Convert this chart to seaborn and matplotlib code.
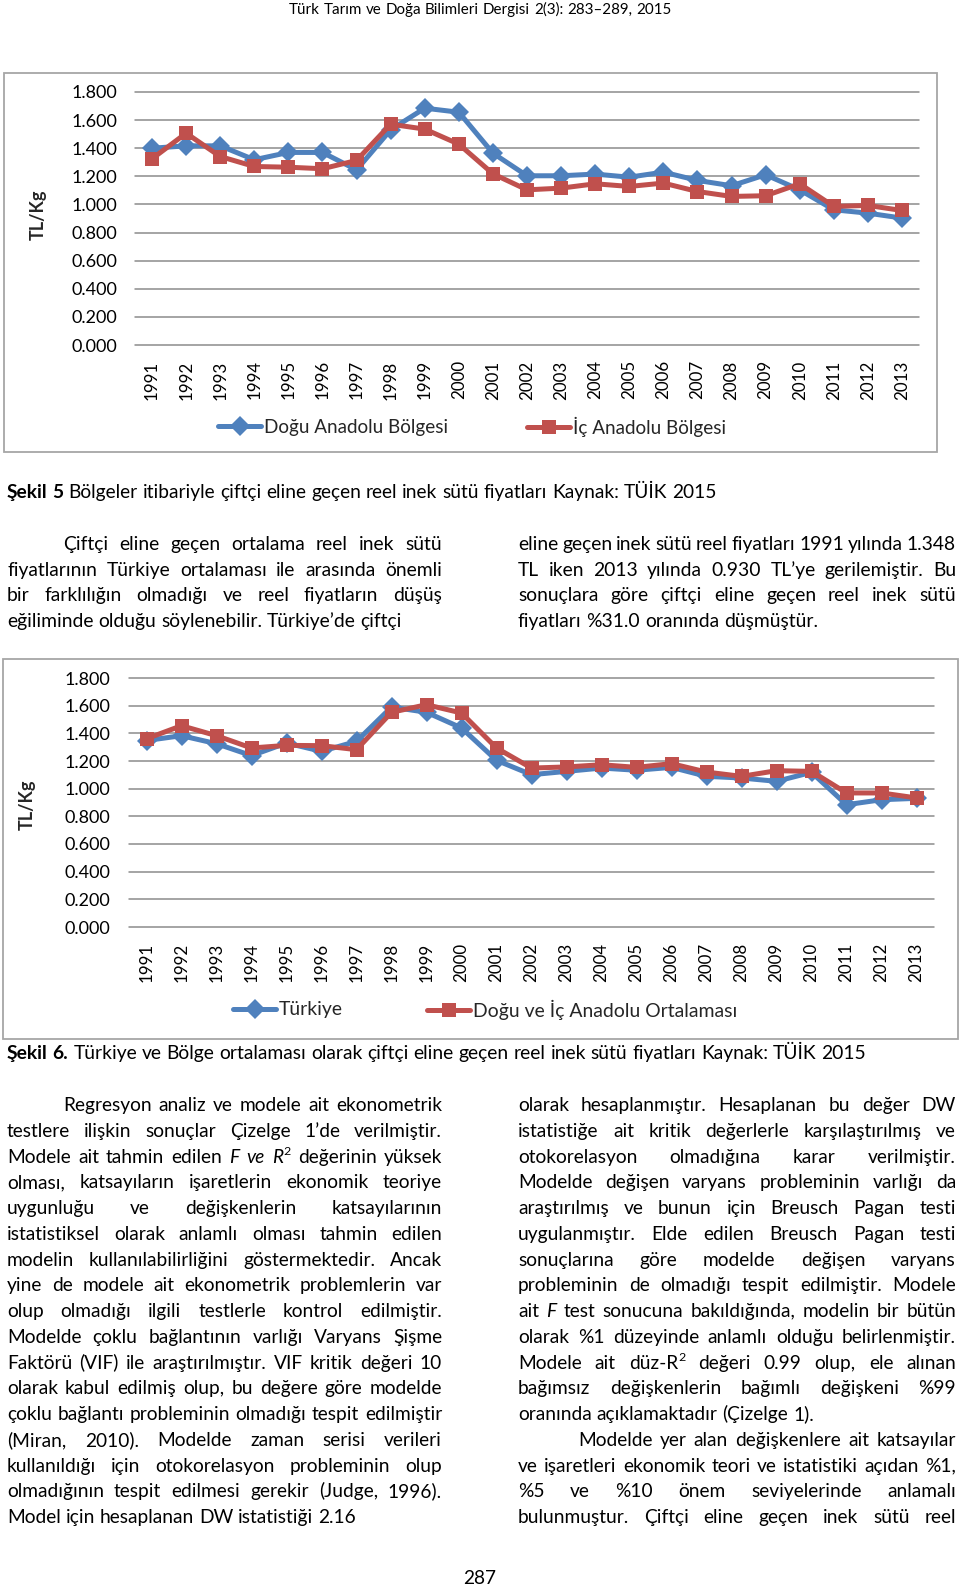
import re
import numpy as np
import pandas as pd
import matplotlib
matplotlib.use('Agg')
import matplotlib.pyplot as plt
import matplotlib.font_manager as fm
from matplotlib.patches import Rectangle
from matplotlib.ticker import FormatStrFormatter
import seaborn as sns

# ---------------- data ----------------
years = ['1991', '1992', '1993', '1994', '1995', '1996', '1997', '1998', '1999', '2000',
         '2001', '2002', '2003', '2004', '2005', '2006', '2007', '2008', '2009', '2010',
         '2011', '2012', '2013']
dogu_anadolu = [1.400, 1.417, 1.417, 1.318, 1.370, 1.370, 1.246, 1.531, 1.685, 1.656,
                1.365, 1.204, 1.204, 1.216, 1.194, 1.230, 1.171, 1.133, 1.211, 1.104,
                0.962, 0.938, 0.903]
ic_anadolu = [1.325, 1.507, 1.341, 1.270, 1.265, 1.254, 1.313, 1.571, 1.536, 1.429,
              1.218, 1.104, 1.116, 1.147, 1.128, 1.152, 1.092, 1.057, 1.062, 1.147,
              0.986, 0.993, 0.957]
turkiye = [1.348, 1.383, 1.325, 1.239, 1.330, 1.270, 1.342, 1.590, 1.552, 1.439,
           1.205, 1.101, 1.125, 1.149, 1.133, 1.154, 1.089, 1.077, 1.053, 1.118,
           0.884, 0.920, 0.930]
bolge_ortalama = [1.361, 1.455, 1.383, 1.294, 1.313, 1.311, 1.282, 1.552, 1.607, 1.547,
                  1.294, 1.149, 1.157, 1.173, 1.154, 1.181, 1.120, 1.089, 1.130, 1.125,
                  0.969, 0.969, 0.933]
y_ticks = [0.0, 0.2, 0.4, 0.6, 0.8, 1.0, 1.2, 1.4, 1.6, 1.8]

series1 = ['Doğu Anadolu Bölgesi', 'İç Anadolu Bölgesi']
series2 = ['Türkiye', 'Doğu ve İç Anadolu Ortalaması']
y_label = 'TL/Kg'

header = 'Türk Tarım ve Doğa Bilimleri Dergisi 2(3): 283–289, 2015'
caption1 = '*Şekil* *5* Bölgeler itibariyle çiftçi eline geçen reel inek sütü fiyatları Kaynak: TÜİK 2015'
caption2 = '*Şekil* *6.* Türkiye ve Bölge ortalaması olarak çiftçi eline geçen reel inek sütü fiyatları  Kaynak: TÜİK 2015'

upper_col1 = ['Çiftçi eline geçen ortalama reel inek sütü',
              'fiyatlarının Türkiye ortalaması ile arasında önemli',
              'bir farklılığın olmadığı ve reel fiyatların düşüş',
              'eğiliminde olduğu söylenebilir. Türkiye’de çiftçi']
upper_col2 = ['eline geçen inek sütü reel fiyatları 1991 yılında 1.348',
              'TL iken 2013 yılında 0.930 TL’ye gerilemiştir. Bu',
              'sonuçlara göre çiftçi eline geçen reel inek sütü',
              'fiyatları %31.0 oranında düşmüştür.']

body_col1 = ['Regresyon analiz ve modele ait ekonometrik',
             'testlere ilişkin sonuçlar Çizelge 1’de verilmiştir.',
             'Modele ait tahmin edilen _F_ _ve_ _R_^2 değerinin yüksek',
             'olması, katsayıların işaretlerin ekonomik teoriye',
             'uygunluğu ve değişkenlerin katsayılarının',
             'istatistiksel olarak anlamlı olması tahmin edilen',
             'modelin kullanılabilirliğini göstermektedir. Ancak',
             'yine de modele ait ekonometrik problemlerin var',
             'olup olmadığı ilgili testlerle kontrol edilmiştir.',
             'Modelde çoklu bağlantının varlığı Varyans Şişme',
             'Faktörü (VIF) ile araştırılmıştır. VIF kritik değeri 10',
             'olarak kabul edilmiş olup, bu değere göre modelde',
             'çoklu bağlantı probleminin olmadığı tespit edilmiştir',
             '(Miran, 2010). Modelde zaman serisi verileri',
             'kullanıldığı için otokorelasyon probleminin olup',
             'olmadığının tespit edilmesi gerekir (Judge, 1996).',
             'Model için hesaplanan DW istatistiği 2.16']
body_col2 = ['olarak hesaplanmıştır. Hesaplanan bu değer DW',
             'istatistiğe ait kritik değerlerle karşılaştırılmış ve',
             'otokorelasyon olmadığına karar verilmiştir.',
             'Modelde değişen varyans probleminin varlığı da',
             'araştırılmış ve bunun için Breusch Pagan testi',
             'uygulanmıştır. Elde edilen Breusch Pagan testi',
             'sonuçlarına göre modelde değişen varyans',
             'probleminin de olmadığı tespit edilmiştir. Modele',
             'ait _F_ test sonucuna bakıldığında, modelin bir bütün',
             'olarak %1 düzeyinde anlamlı olduğu belirlenmiştir.',
             'Modele ait düz-R^2 değeri 0.99 olup, ele alınan',
             'bağımsız değişkenlerin bağımlı değişkeni %99',
             'oranında açıklamaktadır (Çizelge 1).',
             'Modelde yer alan değişkenlere ait katsayılar',
             've işaretleri ekonomik teori ve istatistiki açıdan %1,',
             '%5 ve %10 önem seviyelerinde anlamalı',
             'bulunmuştur. Çiftçi eline geçen inek sütü reel']
page_number = '287'

# ---------------- style ----------------
sns.set_style('white')
BODY = 'Lato'
names = {f.name for f in fm.fontManager.ttflist}
NARROW = 'Liberation Sans Narrow' if 'Liberation Sans Narrow' in names else 'Lato'
plt.rcParams['font.family'] = [BODY, 'DejaVu Sans']
BLUE = '#4F81BD'
RED = '#C0504D'
GRID = '#8C8C8C'
BOX = '#A6A6A6'

W, H = 960, 1589
fig = plt.figure(figsize=(9.6, 15.89), dpi=100)
renderer = fig.canvas.get_renderer()


def P(x, y):
    return (x / W, 1 - y / H)


def measure(s, size, family, weight='normal', style='normal'):
    t = fig.text(0, 0, s, fontsize=size, family=[family, 'DejaVu Sans'],
                 fontweight=weight, fontstyle=style)
    w = t.get_window_extent(renderer=renderer).width
    t.remove()
    return w


def plain(s):
    return re.sub(r'[_*^]', '', s)


def fit(s, target, family, weight='normal'):
    return 10 * target / measure(plain(s), 10, family, weight)


TOKEN = re.compile(r'_([^_]+)_|\*([^*]+)\*|\^([^_*^]+)|([^_*^]+)')


def draw_line(x0, x1, y, line, size, family, justify=False, center=False):
    fs_px = size * 100 / 72
    base = y + 0.32 * fs_px
    items = []
    for word in line.split(' '):
        if word == '':
            continue
        objs, wsum = [], 0.0
        for m in TOKEN.finditer(word):
            if m.group(1):
                txt, st, wt, sup = m.group(1), 'italic', 'normal', False
            elif m.group(2):
                txt, st, wt, sup = m.group(2), 'normal', 'bold', False
            elif m.group(3):
                txt, st, wt, sup = m.group(3), 'normal', 'normal', True
            else:
                txt, st, wt, sup = m.group(4), 'normal', 'normal', False
            s = size * 0.65 if sup else size
            t = fig.text(0, 0, txt, fontsize=s, fontstyle=st, fontweight=wt,
                         family=[family, 'DejaVu Sans'], ha='left', va='baseline',
                         color='black')
            ww = t.get_window_extent(renderer=renderer).width
            objs.append((t, ww, sup))
            wsum += ww
        items.append((objs, wsum))
    space = measure('a a', size, family) - measure('aa', size, family)
    total = sum(w for _, w in items)
    if justify and len(items) > 1:
        gap = (x1 - x0 - total) / (len(items) - 1)
    else:
        gap = space
    if center:
        x = (x0 + x1) / 2 - (total + gap * (len(items) - 1)) / 2
    else:
        x = x0
    for objs, w in items:
        for t, ww, sup in objs:
            yy = base - (0.38 * fs_px if sup else 0)
            t.set_position(P(x, yy))
            x += ww
        x += gap


def draw_para(lines, x0, x1, y0, dy, size, family, indents=None, last_left=None):
    indents = indents or {}
    last_left = last_left or []
    for i, ln in enumerate(lines):
        xs = x0 + indents.get(i, 0)
        draw_line(xs, x1, y0 + i * dy, ln, size, family,
                  justify=(i not in last_left))


# ---------------- charts ----------------
def make_chart(ax, vals_a, vals_b, names_ab, tick_pad_y, tick_pad_x):
    df = pd.DataFrame({
        'Yıl': years + years,
        'Değer': list(vals_a) + list(vals_b),
        'Seri': [names_ab[0]] * len(years) + [names_ab[1]] * len(years),
    })
    sns.lineplot(data=df, x='Yıl', y='Değer', hue='Seri', style='Seri',
                 palette={names_ab[0]: BLUE, names_ab[1]: RED},
                 markers={names_ab[0]: 'D', names_ab[1]: 's'},
                 dashes=False, sort=False, legend=False, ax=ax,
                 linewidth=3.6, markersize=9.5, markeredgewidth=0)
    for ln, ms in zip(ax.lines[:2], [10.5, 9.8]):
        ln.set_markersize(ms)
        ln.set_markeredgewidth(0)
    ax.set_xlim(-0.5, len(years) - 0.5)
    ax.set_ylim(0, 1.8)
    ax.set_yticks(y_ticks)
    ax.yaxis.set_major_formatter(FormatStrFormatter('%.3f'))
    ax.set_xlabel('')
    ax.set_ylabel('')
    for s in ax.spines.values():
        s.set_visible(False)
    ax.set_axisbelow(True)
    ax.yaxis.grid(True, color=GRID, linewidth=1.1)
    ax.xaxis.grid(False)
    for gl in ax.get_ygridlines():
        gl.set_clip_on(False)
    ax.tick_params(axis='y', length=0, pad=tick_pad_y, labelsize=13, labelcolor='black')
    ax.tick_params(axis='x', length=0, pad=tick_pad_x, labelsize=12.2,
                   labelrotation=90, labelcolor='black')
    ax.patch.set_alpha(0)
    return ax.lines[:2]


ax1 = fig.add_axes([135 / W, 1 - 345 / H, 784 / W, 253 / H])
h1 = make_chart(ax1, dogu_anadolu, ic_anadolu, series1, 13, 11)
ax2 = fig.add_axes([129 / W, 1 - 927 / H, 805 / W, 249 / H])
h2 = make_chart(ax2, turkiye, bolge_ortalama, series2, 13.5, 11.5)

for (x0, y0, x1, y1) in [(4, 73, 937, 452), (3, 659, 958, 1039)]:
    fig.add_artist(Rectangle(P(x0, y1), (x1 - x0) / W, (y1 - y0) / H,
                             transform=fig.transFigure, fill=False,
                             edgecolor=BOX, linewidth=1.3))

fig.text(*P(38, 215), y_label, rotation=90, ha='center', va='center',
         fontsize=13, fontweight='bold')
fig.text(*P(27, 805), y_label, rotation=90, ha='center', va='center',
         fontsize=13, fontweight='bold')

leg_size1 = fit(series1[0], 184, BODY)
leg_size2 = fit(series2[1], 263, BODY)
for handles, labels, xs, yc, fsz in [
        (h1, series1, [218, 527], 427, leg_size1),
        (h2, series2, [233, 427], 1010, leg_size2)]:
    fs_px = fsz * 100 / 72
    for h, lab, x in zip(handles, labels, xs):
        fig.legend(handles=[h], labels=[lab], loc='center left',
                   bbox_to_anchor=P(x, yc), frameon=False, borderpad=0,
                   borderaxespad=0, handlelength=43 / fs_px,
                   handletextpad=3 / fs_px, fontsize=fsz, numpoints=1)

# ---------------- text ----------------
hs = fit(header, 382, NARROW)
draw_line(0, W, 9, header, hs, NARROW, center=True)

cs1 = fit(caption1, 707, NARROW)
draw_line(7, 900, 492, caption1, cs1, NARROW)
cs2 = fit(caption2, 865, NARROW)
draw_line(7, 950, 1053, caption2, cs2, NARROW)

us = fit(upper_col1[3], 395, NARROW)
draw_para(upper_col1, 7, 442, 544, 25.5, us, NARROW, indents={0: 56}, last_left=[3])
draw_para(upper_col2, 518, 956, 544, 25.5, us, NARROW, last_left=[3])

bs = fit(body_col1[16], 349, BODY)
draw_para(body_col1, 7, 442, 1105, 25.75, bs, BODY, indents={0: 56}, last_left=[16])
draw_para(body_col2, 518, 956, 1105, 25.75, bs, BODY, indents={13: 60}, last_left=[12])

draw_line(0, W, 1578, page_number, bs, BODY, center=True)

fig.savefig('out.png', dpi=100)
